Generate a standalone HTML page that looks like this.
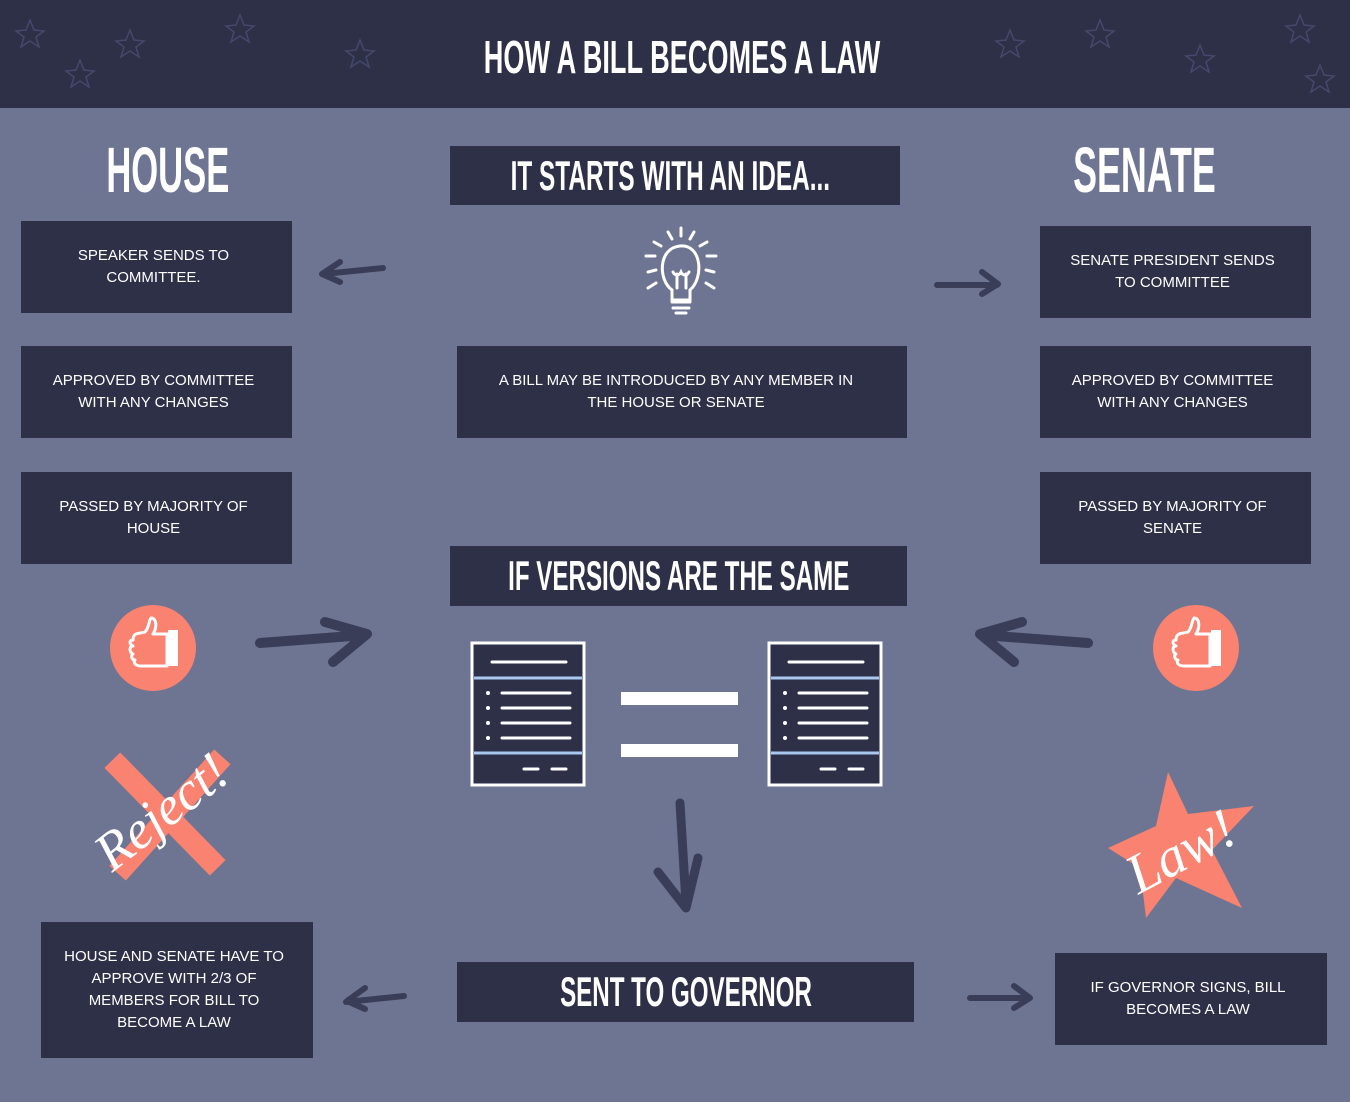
<!DOCTYPE html>
<html><head><meta charset="utf-8"><style>
body{margin:0;width:1350px;height:1102px;background:#6e7592;position:relative;overflow:hidden;font-family:"Liberation Sans",sans-serif}
.hdr{position:absolute;left:0;top:0;width:1350px;height:108px;background:#2e3048}
.b{position:absolute;background:#2e3048;color:#fff;font-size:15px;line-height:22px;text-align:center;display:flex;align-items:center;justify-content:center;box-sizing:border-box;padding:0 20px}
.t{position:absolute;color:#fff;font-weight:bold;text-align:center;white-space:nowrap}
.t span,.b span{display:inline-block;transform-origin:center;white-space:nowrap}
svg{position:absolute;left:0;top:0}
</style></head><body>
<div class="hdr"></div>
<div class="t" style="left:0;width:1364px;top:30px;font-size:46px;line-height:54px"><span style="transform:scaleX(0.59)">HOW A BILL BECOMES A LAW</span></div>
<div class="t" style="left:18px;width:300px;top:136px;font-size:64px;line-height:68px"><span style="transform:scaleX(0.54)">HOUSE</span></div>
<div class="t" style="left:994px;width:300px;top:136px;font-size:64px;line-height:68px"><span style="transform:scaleX(0.56)">SENATE</span></div>
<div class="b" style="left:450px;top:146px;width:450px;height:59px;font-size:42px;font-weight:bold;padding:0 10px 0 0"><span style="transform:scaleX(0.58)">IT STARTS WITH AN IDEA...</span></div>
<div class="b" style="left:21px;top:221px;width:271px;height:92px;padding:0 20px 0 14px">SPEAKER SENDS TO COMMITTEE.</div>
<div class="b" style="left:21px;top:346px;width:271px;height:92px;padding:0 20px 0 14px">APPROVED BY COMMITTEE WITH ANY CHANGES</div>
<div class="b" style="left:21px;top:472px;width:271px;height:92px;padding:0 20px 0 14px">PASSED BY MAJORITY OF HOUSE</div>
<div class="b" style="left:1040px;top:226px;width:271px;height:92px;padding:0 30px 0 24px">SENATE PRESIDENT SENDS TO COMMITTEE</div>
<div class="b" style="left:1040px;top:346px;width:271px;height:92px;padding:0 20px 0 14px">APPROVED BY COMMITTEE WITH ANY CHANGES</div>
<div class="b" style="left:1040px;top:472px;width:271px;height:92px;padding:0 20px 0 14px">PASSED BY MAJORITY OF SENATE</div>
<div class="b" style="left:457px;top:346px;width:450px;height:92px;padding:0 42px 0 30px">A BILL MAY BE INTRODUCED BY ANY MEMBER IN THE HOUSE OR SENATE</div>
<div class="b" style="left:450px;top:546px;width:457px;height:60px;font-size:42px;font-weight:bold;padding:0"><span style="transform:scaleX(0.575)">IF VERSIONS ARE THE SAME</span></div>
<div class="b" style="left:457px;top:962px;width:457px;height:60px;font-size:42px;font-weight:bold;padding:0"><span style="transform:scaleX(0.575)">SENT TO GOVERNOR</span></div>
<div class="b" style="left:41px;top:922px;width:272px;height:136px;padding:0 20px 0 14px">HOUSE AND SENATE HAVE TO APPROVE WITH 2/3 OF MEMBERS FOR BILL TO BECOME A LAW</div>
<div class="b" style="left:1055px;top:953px;width:272px;height:92px;padding:0 30px 0 24px">IF GOVERNOR SIGNS, BILL BECOMES A LAW</div>
<svg width="1350" height="1102" viewBox="0 0 1350 1102">
<g fill="none" stroke="#45486a" stroke-width="1.5">
<path d="M30 20l4 10 10 1-8 6 3 10-9-6-9 6 3-10-8-6 10-1z"/><path d="M130 30l4 10 10 1-8 6 3 10-9-6-9 6 3-10-8-6 10-1z"/><path d="M240 15l4 10 10 1-8 6 3 10-9-6-9 6 3-10-8-6 10-1z"/><path d="M360 40l4 10 10 1-8 6 3 10-9-6-9 6 3-10-8-6 10-1z"/><path d="M1010 30l4 10 10 1-8 6 3 10-9-6-9 6 3-10-8-6 10-1z"/><path d="M1100 20l4 10 10 1-8 6 3 10-9-6-9 6 3-10-8-6 10-1z"/><path d="M1200 45l4 10 10 1-8 6 3 10-9-6-9 6 3-10-8-6 10-1z"/><path d="M1300 15l4 10 10 1-8 6 3 10-9-6-9 6 3-10-8-6 10-1z"/><path d="M80 60l4 10 10 1-8 6 3 10-9-6-9 6 3-10-8-6 10-1z"/><path d="M1320 65l4 10 10 1-8 6 3 10-9-6-9 6 3-10-8-6 10-1z"/>
</g>
<g stroke="#fff" stroke-width="3" fill="none" stroke-linecap="round">
<path d="M672 290c-14-10-14-42 8-44s24 32 10 44v10h-18z"/><path d="M672 302h18M673 308h16M676 313h10"/><path d="M677 288v-14M686 288v-14M673 272c2 4 6 4 8 0 2 4 6 4 8 0"/>
<path d="M681 228v8M668 232l4 7M694 232l-4 7M654 242l7 4M707 242l-7 4M646 256h9M716 256h-9M648 272l8-2M714 272l-8-2M648 288l8-5M714 288l-8-5"/>
</g>
<g fill="none" stroke="#3a3d57" stroke-linecap="round" stroke-linejoin="round">
<path d="M383 268l-60 6M340 262l-18 12 18 8" stroke-width="6"/>
<path d="M937 285l60 0M982 272l16 12-16 10" stroke-width="6"/>
<path d="M260 643l105-8M325 622l42 12-34 28" stroke-width="10"/>
<path d="M1088 643l-105-8M1022 622l-42 12 34 28" stroke-width="10"/>
<path d="M404 996l-58 6M365 988l-18 13 18 8" stroke-width="6"/>
<path d="M970 998l58 0M1014 986l16 12-16 10" stroke-width="6"/>
<path d="M680 803l6 100M658 872l28 36 12-50" stroke-width="9"/>
</g>
<circle cx="153" cy="648" r="43" fill="#fa8270"/><circle cx="1196" cy="648" r="43" fill="#fa8270"/>
<g stroke="#fff" stroke-width="3" fill="none" stroke-linejoin="round">
<path d="M133 640c0-8 6-6 12-8 4-4 4-12 6-14 6 0 6 10 2 16h14v32h-26c-6 0-8-4-6-6-4 0-4-6-2-6-4-2-4-8 0-8-4-2-4-6 0-6z"/>
<path d="M1176 640c0-8 6-6 12-8 4-4 4-12 6-14 6 0 6 10 2 16h14v32h-26c-6 0-8-4-6-6-4 0-4-6-2-6-4-2-4-8 0-8-4-2-4-6 0-6z"/>
</g>
<rect x="168" y="630" width="10" height="36" fill="#fff"/><rect x="1211" y="630" width="10" height="36" fill="#fff"/>
<g>
<rect x="472" y="643" width="112" height="142" fill="#2e3048" stroke="#fff" stroke-width="3"/>
<rect x="769" y="643" width="112" height="142" fill="#2e3048" stroke="#fff" stroke-width="3"/>
<g stroke="#a8c8f0" stroke-width="3"><path d="M474 678h108M474 753h108M771 678h108M771 753h108"/></g>
<g stroke="#fff" stroke-width="3" stroke-linecap="round"><path d="M492 662h74M502 693h68M502 708h68M502 723h68M502 738h68M524 769h14M552 769h14M789 662h74M799 693h68M799 708h68M799 723h68M799 738h68M821 769h14M849 769h14"/></g>
<g fill="#fff"><circle cx="488" cy="693" r="2"/><circle cx="488" cy="708" r="2"/><circle cx="488" cy="723" r="2"/><circle cx="488" cy="738" r="2"/><circle cx="785" cy="693" r="2"/><circle cx="785" cy="708" r="2"/><circle cx="785" cy="723" r="2"/><circle cx="785" cy="738" r="2"/></g>
</g>
<rect x="621" y="692" width="117" height="13" fill="#fff"/><rect x="621" y="744" width="117" height="13" fill="#fff"/>
<g stroke="#fa8270" stroke-width="22" stroke-linecap="square"><path d="M120 768l90 92M215 765l-90 100"/></g>
<text x="160" y="830" fill="#fff" font-family="Liberation Serif,serif" font-style="italic" font-size="54" text-anchor="middle" transform="rotate(-38 160 810)">Reject!</text>
<path d="M1168 772l20 42 66 -8-42 44 30 58-66-30-30 40-6-50-32-20 48-22z" fill="#fa8270"/>
<text x="1180" y="870" fill="#fff" font-family="Liberation Serif,serif" font-style="italic" font-size="56" text-anchor="middle" transform="rotate(-28 1180 850)">Law!</text>
</svg>
</body></html>
